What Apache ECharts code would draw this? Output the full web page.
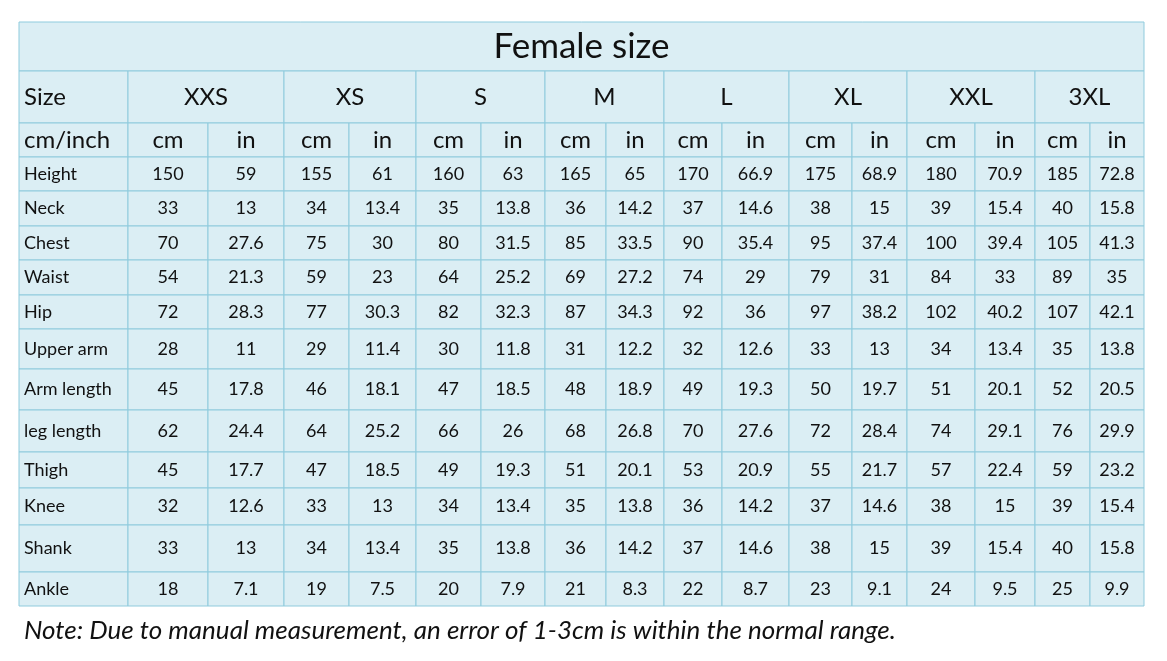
<!DOCTYPE html>
<html><head><meta charset="utf-8">
<script src="https://cdn.jsdelivr.net/npm/echarts@6/dist/echarts.min.js"></script>
<style>html,body{margin:0;padding:0;background:#fff}#c{width:1167px;height:661px}</style>
</head><body><div id="c"></div>
<script>
const title = 'Female size';
const sizes = ['XXS', 'XS', 'S', 'M', 'L', 'XL', 'XXL', '3XL'];
const rowNames = ['Height', 'Neck', 'Chest', 'Waist', 'Hip', 'Upper arm', 'Arm length', 'leg length', 'Thigh', 'Knee', 'Shank', 'Ankle'];
const cmValues = [
  [150, 155, 160, 165, 170, 175, 180, 185],
  [33, 34, 35, 36, 37, 38, 39, 40],
  [70, 75, 80, 85, 90, 95, 100, 105],
  [54, 59, 64, 69, 74, 79, 84, 89],
  [72, 77, 82, 87, 92, 97, 102, 107],
  [28, 29, 30, 31, 32, 33, 34, 35],
  [45, 46, 47, 48, 49, 50, 51, 52],
  [62, 64, 66, 68, 70, 72, 74, 76],
  [45, 47, 49, 51, 53, 55, 57, 59],
  [32, 33, 34, 35, 36, 37, 38, 39],
  [33, 34, 35, 36, 37, 38, 39, 40],
  [18, 19, 20, 21, 22, 23, 24, 25]
];
const inValues = [
  ['59', '61', '63', '65', '66.9', '68.9', '70.9', '72.8'],
  ['13', '13.4', '13.8', '14.2', '14.6', '15', '15.4', '15.8'],
  ['27.6', '30', '31.5', '33.5', '35.4', '37.4', '39.4', '41.3'],
  ['21.3', '23', '25.2', '27.2', '29', '31', '33', '35'],
  ['28.3', '30.3', '32.3', '34.3', '36', '38.2', '40.2', '42.1'],
  ['11', '11.4', '11.8', '12.2', '12.6', '13', '13.4', '13.8'],
  ['17.8', '18.1', '18.5', '18.9', '19.3', '19.7', '20.1', '20.5'],
  ['24.4', '25.2', '26', '26.8', '27.6', '28.4', '29.1', '29.9'],
  ['17.7', '18.5', '19.3', '20.1', '20.9', '21.7', '22.4', '23.2'],
  ['12.6', '13', '13.4', '13.8', '14.2', '14.6', '15', '15.4'],
  ['13', '13.4', '13.8', '14.2', '14.6', '15', '15.4', '15.8'],
  ['7.1', '7.5', '7.9', '8.3', '8.7', '9.1', '9.5', '9.9']
];
const note = 'Note: Due to manual measurement, an error of 1-3cm is within the normal range.';

// layout (pixels)
const colX = [19, 128, 208, 284, 349, 416, 481, 545, 606, 664, 722, 789, 852, 907, 975, 1035, 1090, 1144];
const rowY = [22, 71, 123, 157, 191, 226, 260, 295, 329, 369, 410, 452, 488, 525, 572, 606];

// build cells: [x0, x1, y0, y1, text, align, fontSize]
const cells = [];
cells.push([colX[0], colX[colX.length - 1], rowY[0], rowY[1], title, 'center', 35]);
cells.push([colX[0], colX[1], rowY[1], rowY[2], 'Size', 'left', 24]);
sizes.forEach((s, i) => cells.push([colX[1 + 2 * i], colX[3 + 2 * i], rowY[1], rowY[2], s, 'center', 24]));
cells.push([colX[0], colX[1], rowY[2], rowY[3], 'cm/inch', 'left', 24]);
sizes.forEach((s, i) => {
  cells.push([colX[1 + 2 * i], colX[2 + 2 * i], rowY[2], rowY[3], 'cm', 'center', 24]);
  cells.push([colX[2 + 2 * i], colX[3 + 2 * i], rowY[2], rowY[3], 'in', 'center', 24]);
});
rowNames.forEach((r, j) => {
  const y0 = rowY[3 + j], y1 = rowY[4 + j];
  cells.push([colX[0], colX[1], y0, y1, r, 'left', 18]);
  sizes.forEach((s, i) => {
    cells.push([colX[1 + 2 * i], colX[2 + 2 * i], y0, y1, String(cmValues[j][i]), 'center', 18]);
    cells.push([colX[2 + 2 * i], colX[3 + 2 * i], y0, y1, inValues[j][i], 'center', 18]);
  });
});

const chart = echarts.init(document.getElementById('c'));
chart.setOption({
  animation: false,
  grid: {left: 0, right: 0, top: 0, bottom: 0},
  xAxis: {type: 'value', min: 0, max: 1167, show: false},
  yAxis: {type: 'value', min: 0, max: 661, inverse: true, show: false},
  series: [{
    type: 'custom',
    data: cells,
    renderItem: function (params, api) {
      const p0 = api.coord([api.value(0), api.value(2)]);
      const p1 = api.coord([api.value(1), api.value(3)]);
      const c = cells[params.dataIndex];
      const tx = c[5] === 'left' ? p0[0] + 5 : (p0[0] + p1[0]) / 2;
      return {
        type: 'group',
        children: [{
          type: 'rect',
          shape: {x: p0[0], y: p0[1], width: p1[0] - p0[0], height: p1[1] - p0[1]},
          style: {fill: '#dbeef4', stroke: '#8fcbdd', lineWidth: 1}
        }, {
          type: 'text',
          style: {
            x: tx, y: (p0[1] + p1[1]) / 2, text: c[4], align: c[5], verticalAlign: 'middle',
            font: c[6] + 'px Lato, "Open Sans", sans-serif', fill: '#111'
          }
        }]
      };
    }
  }],
  graphic: [{
    type: 'text', left: 24, top: 618,
    style: {text: note, font: 'italic 26px Lato, "Open Sans", sans-serif', fill: '#111'}
  }]
});
</script></body></html>
